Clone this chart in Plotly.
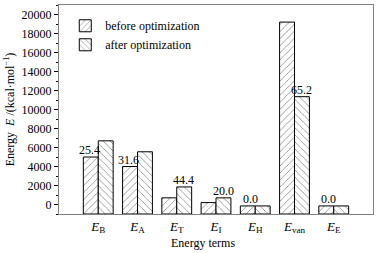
import plotly.graph_objects as go

categories = ["<i>E</i><sub>B</sub>", "<i>E</i><sub>A</sub>", "<i>E</i><sub>T</sub>",
              "<i>E</i><sub>I</sub>", "<i>E</i><sub>H</sub>", "<i>E</i><sub>van</sub>",
              "<i>E</i><sub>E</sub>"]
before_opt = [5000, 4000, 700, 200, -150, 19200, -150]
after_opt = [6700, 5550, 1850, 700, -150, 11350, -150]
label_text = ["25.4", "31.6", "44.4", "20.0", "0.0", "65.2", "0.0"]
# which bar each label sits on: "b" before, "a" after, "g" group centre
label_anchor = ["b", "b", "a", "a", "g", "a", "g"]
y_ticks = [0, 2000, 4000, 6000, 8000, 10000, 12000, 14000, 16000, 18000, 20000]

BASE = -1000
FONT = "Liberation Serif"

fig = go.Figure()
fig.add_trace(go.Bar(
    x=categories, y=[v - BASE for v in before_opt], base=BASE,
    name="before optimization",
    marker=dict(color="white", line=dict(color="black", width=1),
                pattern=dict(shape="/", fgcolor="black", bgcolor="white", size=5, solidity=0.15)),
))
fig.add_trace(go.Bar(
    x=categories, y=[v - BASE for v in after_opt], base=BASE,
    name="after optimization",
    marker=dict(color="white", line=dict(color="black", width=1),
                pattern=dict(shape="\\", fgcolor="black", bgcolor="white", size=5, solidity=0.15)),
))

for cat, txt, anc, b, a in zip(categories, label_text, label_anchor, before_opt, after_opt):
    if anc == "b":
        yv, shift = b, -9
    elif anc == "a":
        yv, shift = a, 7
    else:
        yv, shift = max(a, b), -5
    fig.add_annotation(x=cat, y=yv, text=txt, showarrow=False, xshift=shift,
                       yanchor="bottom", yshift=-2, font=dict(family=FONT, size=12, color="black"))

fig.add_annotation(x=0.46, y=0, xref="paper", yref="paper", yshift=-29, text="Energy terms",
                   showarrow=False, yanchor="middle", font=dict(family=FONT, size=12, color="black"))

fig.update_layout(
    width=380, height=253,
    margin=dict(l=59, r=7, t=5, b=39),
    paper_bgcolor="white", plot_bgcolor="white",
    font=dict(family=FONT, size=12, color="black"),
    barmode="group", bargap=0.24, bargroupgap=0,
    showlegend=True,
    legend=dict(x=0.02, y=0.97, xanchor="left", yanchor="top", bgcolor="rgba(0,0,0,0)",
                font=dict(family=FONT, size=12), tracegroupgap=0, itemwidth=30),
)
fig.update_xaxes(range=[-1, 7], showline=True, linecolor="#808080", linewidth=1, mirror=True,
                 ticks="", showgrid=False, automargin=False, tickfont=dict(family=FONT, size=13))
fig.update_yaxes(range=[-1000, 21000], tickvals=y_ticks, ticktext=[str(t) for t in y_ticks],
                 showline=True, linecolor="#808080", automargin=False,
                 linewidth=1, mirror=True, ticks="outside", ticklen=4, tickcolor="black",
                 showgrid=False, zeroline=False, tickfont=dict(family=FONT, size=12),
                 minor=dict(dtick=1000, ticks="outside", ticklen=2, tickcolor="black"),
                 title=dict(text="Energy  <i>E</i> /(kcal·mol<sup>−1</sup>)", standoff=4,
                            font=dict(family=FONT, size=12)))
fig.write_html("out.html", config={"displayModeBar": False},
               post_script="document.body.style.margin='0';document.body.style.overflow='hidden';")
